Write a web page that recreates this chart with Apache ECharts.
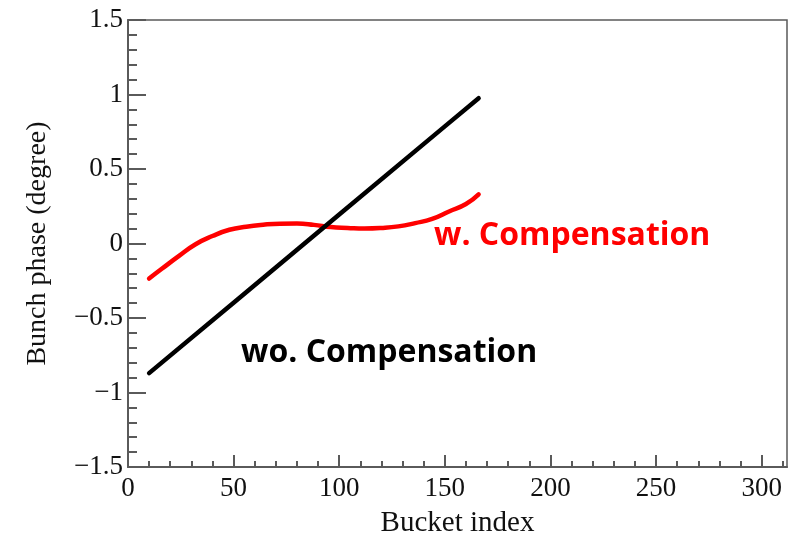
<!DOCTYPE html>
<html>
<head>
<meta charset="utf-8">
<script src="https://cdn.jsdelivr.net/npm/echarts@6/dist/echarts.min.js"></script>
<style>html,body{margin:0;padding:0;background:#fff}#c{width:802px;height:535px}</style>
</head>
<body>
<div id="c"></div>
<script>
// Data
const compX = [10, 16, 24, 32, 40, 48, 56, 64, 72, 80, 88, 96, 104, 112, 120, 128, 136, 144, 152, 160, 166];
const compY = [-0.235, -0.17, -0.085, -0.005, 0.05, 0.092, 0.113, 0.126, 0.133, 0.134, 0.125, 0.11, 0.104, 0.1, 0.104, 0.115, 0.137, 0.165, 0.215, 0.265, 0.33];
const woX = [10, 50, 100, 150, 166];
const woY = [-0.87, -0.397, 0.195, 0.786, 0.975];
const xMajorTicks = [0, 50, 100, 150, 200, 250, 300];
const xMinorTicks = [10, 20, 30, 40, 60, 70, 80, 90, 110, 120, 130, 140, 160, 170, 180, 190, 210, 220, 230, 240, 260, 270, 280, 290, 310];
const labelW = 'w. Compensation';
const labelWo = 'wo. Compensation';
const xTitle = 'Bucket index';
const yTitle = 'Bunch phase (degree)';

const serif = '"Liberation Serif", "DejaVu Serif", serif';
const axisCol = '#5a5a5a';
const chart = echarts.init(document.getElementById('c'), null, {renderer: 'canvas'});
const fmt = v => String(v).replace('-', '\u2212');
chart.setOption({
  animation: false,
  backgroundColor: '#fff',
  grid: {left: 128, top: 20, right: 15, bottom: 68, outerBoundsMode: 'none', containLabel: false, show: true, borderColor: axisCol, borderWidth: 1.5, backgroundColor: 'transparent'},
  xAxis: [{
    type: 'value', min: 0, max: 312, position: 'bottom',
    name: xTitle, nameLocation: 'middle', nameGap: 42,
    nameTextStyle: {fontFamily: serif, fontSize: 29, color: '#111'},
    axisLine: {show: true, onZero: false, lineStyle: {color: axisCol, width: 2}},
    axisTick: {show: true, inside: true, length: 12, customValues: xMajorTicks, lineStyle: {color: axisCol, width: 2}},
    axisLabel: {customValues: xMajorTicks, fontFamily: serif, fontSize: 27, color: '#111', margin: 8, formatter: fmt},
    splitLine: {show: false}
  }, {
    type: 'value', min: 0, max: 312, position: 'bottom', offset: 0,
    axisLine: {show: false, onZero: false},
    axisTick: {show: true, inside: true, length: 6, customValues: xMinorTicks, lineStyle: {color: axisCol, width: 2}},
    axisLabel: {show: false},
    splitLine: {show: false}
  }],
  yAxis: {
    type: 'value', min: -1.5, max: 1.5, interval: 0.5,
    name: yTitle, nameLocation: 'middle', nameGap: 76,
    nameTextStyle: {fontFamily: serif, fontSize: 28, color: '#111'},
    axisLine: {show: true, onZero: false, lineStyle: {color: axisCol, width: 2}},
    axisTick: {show: true, inside: true, length: 18, lineStyle: {color: axisCol, width: 2}},
    minorTick: {show: true, splitNumber: 5, length: 9, lineStyle: {color: axisCol, width: 2}},
    axisLabel: {fontFamily: serif, fontSize: 27, color: '#111', margin: 5, formatter: fmt},
    splitLine: {show: false}
  },
  series: [{
    type: 'line', name: labelW, smooth: true, showSymbol: false,
    data: compX.map((x, i) => [x, compY[i]]),
    lineStyle: {color: '#ff0000', width: 4.5, cap: 'round'}
  }, {
    type: 'line', name: labelWo, showSymbol: false,
    data: woX.map((x, i) => [x, woY[i]]),
    lineStyle: {color: '#000', width: 4.5, cap: 'round'}
  }],
  graphic: [{
    type: 'text', left: 434, top: 220,
    style: {text: labelW, fill: '#ff0000', font: 'bold 32px "Open Sans", sans-serif'}
  }, {
    type: 'text', left: 241, top: 337,
    style: {text: labelWo, fill: '#000', font: 'bold 32px "Open Sans", sans-serif'}
  }]
});
</script>
</body>
</html>
